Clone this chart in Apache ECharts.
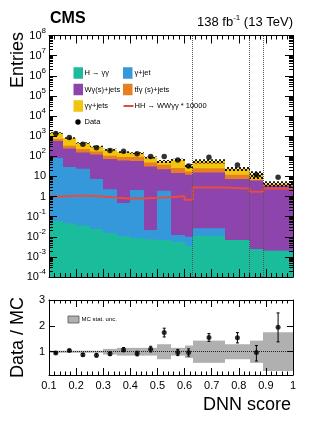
<!DOCTYPE html>
<html>
<head>
<meta charset="utf-8">
<script src="https://cdn.jsdelivr.net/npm/echarts@6.0.0/dist/echarts.min.js"></script>
<style>html,body{margin:0;padding:0;background:#fff;}#chart{width:327px;height:423px;}</style>
</head>
<body>
<div id="chart"></div>
<script>
// ---------------- data ----------------
const binEdges = [0.1, 0.15, 0.2, 0.25, 0.3, 0.35, 0.4, 0.45, 0.5, 0.55, 0.6, 0.63, 0.75, 0.84, 0.89, 1.0];
const categoryEdges = [0.63, 0.84, 0.89];

const hgg    = [0.061, 0.047, 0.035, 0.024, 0.016, 0.011, 0.0084, 0.0075, 0.0069, 0.0057, 0.0035, 0.011, 0.0069, 0.0024, 0.0020];
const gjet   = [81, 29, 24, 7.3, 2.3, 0.47, 2.1, 0.014, 1.9, 0.0066, 0.0066, 0.0155, 0, 0, 0];
const wgjets = [489, 215, 131, 116, 70, 61, 56, 31, 21, 14.6, 12, 15.6, 7.5, 6.2, 3.4];
const ttgjets= [148, 89, 73, 50, 33.5, 29, 33, 18, 14.7, 11.2, 5.5, 9.6, 4.5, 0.55, 0.2];
const ggjets = [708, 470, 225, 134, 104, 71, 53, 38, 17.3, 41, 16.1, 32.3, 11.8, 5.9, 0.8];
const hhSignal = [0.99, 1.08, 1.08, 0.99, 0.86, 0.79, 0.79, 0.86, 0.93, 1.05, 0.68, 2.8, 2.5, 1.7, 2.5];
const dataCounts = [1355, 843, 399, 264, 193, 175, 134, 96, 96, 65, 33, 89, 37, 12, 9];
const stackUnc = [0.09, 0.09, 0.09, 0.09, 0.11, 0.11, 0.11, 0.11, 0.17, 0.11, 0.23, 0.25, 0.23, 0.42, 0.30];

const ratio        = [0.95, 1.05, 0.88, 0.86, 0.92, 1.08, 0.93, 1.10, 1.74, 0.97, 0.97, 1.55, 1.54, 0.97, 1.95];
const ratioErrUp   = [0.03, 0.04, 0.05, 0.06, 0.07, 0.08, 0.09, 0.11, 0.17, 0.12, 0.14, 0.15, 0.20, 0.27, 0.55];
const ratioErrDown = [0.03, 0.04, 0.05, 0.06, 0.07, 0.08, 0.09, 0.11, 0.17, 0.12, 0.14, 0.15, 0.20, 0.33, 0.57];
const mcStatUnc    = [0.04, 0.04, 0.04, 0.04, 0.11, 0.15, 0.15, 0.15, 0.29, 0.15, 0.24, 0.43, 0.29, 0.43, 0.75];

const logDecades = [-4, -3, -2, -1, 0, 1, 2, 3, 4, 5, 6, 7, 8];
const ratioTicks = [1, 2, 3];

// ---------------- helpers ----------------
const FONT = "'Liberation Sans', Arial, Helvetica, sans-serif";
const nBins = binEdges.length - 1;
const centers = binEdges.slice(0, -1).map((e, i) => (e + binEdges[i + 1]) / 2);
const YMIN = 1e-4, YMAX = 1e8;
const logMajor = logDecades.map(e => Math.pow(10, e));
const logMinor = [];
logDecades.slice(0, -1).forEach(e => { for (let k = 2; k <= 9; k++) logMinor.push(k * Math.pow(10, e)); });

// hatch pattern
const pc = document.createElement('canvas');
pc.width = 4; pc.height = 4;
const g = pc.getContext('2d');
g.strokeStyle = 'rgba(0,0,0,0.9)'; g.lineWidth = 1;
g.beginPath(); g.moveTo(0, 0); g.lineTo(4, 4); g.moveTo(4, 0); g.lineTo(0, 4); g.stroke();
const hatch = { image: pc, repeat: 'repeat' };

function rectRenderer(fill, stroke) {
  return function (params, api) {
    const a = api.coord([api.value(0), api.value(3)]);
    const b = api.coord([api.value(1), api.value(2)]);
    const x0 = Math.round(a[0]), x1 = Math.round(b[0]);
    const st = { fill: fill };
    if (stroke) { st.stroke = stroke; st.lineWidth = 1; }
    return { type: 'rect', shape: { x: x0, y: a[1], width: x1 - x0, height: b[1] - a[1] }, style: st };
  };
}

const procs = [
  { name: 'H → γγ', vals: hgg, color: '#1abc9c' },
  { name: 'γ+jet', vals: gjet, color: '#3498db' },
  { name: 'Wγ(s)+jets', vals: wgjets, color: '#8e44ad' },
  { name: 'tt̄γ (s)+jets', vals: ttgjets, color: '#e67e22' },
  { name: 'γγ+jets', vals: ggjets, color: '#f1c40f' }
];
const cum = new Array(nBins).fill(0);
const cumTops = procs.map(p => p.vals.map((v, i) => (cum[i] += v)));
const total = cum.slice();

// draw cumulative layers top-down (largest first), each from axis minimum
const stackSeries = procs.map((p, k) => ({
  type: 'custom', name: p.name, xAxisIndex: 0, yAxisIndex: 0, clip: true, z: 2,
  encode: { x: [0, 1], y: [2, 3] },
  renderItem: rectRenderer(p.color),
  data: cumTops[k].map((t, i) => [binEdges[i], binEdges[i + 1], YMIN, Math.max(t, YMIN)])
})).reverse();

const hatchSeries = {
  type: 'custom', name: 'unc', xAxisIndex: 0, yAxisIndex: 0, clip: true, z: 3,
  encode: { x: [0, 1], y: [2, 3] },
  renderItem: rectRenderer(hatch),
  data: total.map((t, i) => [binEdges[i], binEdges[i + 1], t * (1 - stackUnc[i]), t * (1 + stackUnc[i])])
};

const hhLine = binEdges.map((e, i) => [e, hhSignal[Math.min(i, nBins - 1)]]);

const bandSeries = {
  type: 'custom', name: 'MC stat. unc.', xAxisIndex: 2, yAxisIndex: 4, clip: true, z: 2,
  encode: { x: [0, 1], y: [2, 3] },
  renderItem: rectRenderer('#b0b0b0'),
  data: mcStatUnc.map((u, i) => [binEdges[i], binEdges[i + 1], 1 - u, 1 + u])
};

const errSeries = {
  type: 'custom', xAxisIndex: 2, yAxisIndex: 4, clip: true, z: 4,
  encode: { x: 0, y: [1, 2, 3] },
  renderItem: function (params, api) {
    const hi = api.coord([api.value(0), api.value(2)]);
    const lo = api.coord([api.value(0), api.value(3)]);
    const s = { stroke: '#000', lineWidth: 1 };
    return { type: 'group', children: [
      { type: 'line', shape: { x1: hi[0], y1: hi[1], x2: lo[0], y2: lo[1] }, style: s },
      { type: 'line', shape: { x1: hi[0] - 1.5, y1: hi[1], x2: hi[0] + 1.5, y2: hi[1] }, style: s },
      { type: 'line', shape: { x1: lo[0] - 1.5, y1: lo[1], x2: lo[0] + 1.5, y2: lo[1] }, style: s }
    ] };
  },
  data: ratio.map((r, i) => [centers[i], r, r + ratioErrUp[i], r - ratioErrDown[i]])
};

// axes
const black = '#000';
function xAx(grid, pos, majLen, minLen, labels) {
  return {
    type: 'value', gridIndex: grid, position: pos, min: 0.1, max: 1, interval: 0.1, z: 10,
    splitLine: { show: false },
    axisLine: { show: true, onZero: false, lineStyle: { color: black, width: 1 } },
    axisTick: { show: true, inside: true, length: majLen, lineStyle: { color: black, width: 1 } },
    minorTick: { show: true, splitNumber: 5, length: minLen, lineStyle: { color: black, width: 1 } },
    axisLabel: labels ? {
      show: true, fontSize: 11, fontFamily: FONT, color: black, margin: 5,
      formatter: v => String(Math.round(v * 10) / 10)
    } : { show: false }
  };
}
function logFmt(v) {
  const e = Math.round(Math.log10(v));
  if (e === 0) return '1';
  if (e === 1) return '10';
  return '10{s|' + e + '}';
}
function yLog(pos, major, labels) {
  const vals = major ? logMajor : logMinor;
  return {
    type: 'log', logBase: 10, gridIndex: 0, position: pos, min: YMIN, max: YMAX, z: 10,
    splitLine: { show: false },
    axisLine: { show: major, onZero: false, lineStyle: { color: black, width: 1 } },
    axisTick: { show: true, inside: true, length: major ? 8 : 4, customValues: vals, lineStyle: { color: black, width: 1 } },
    minorTick: { show: false },
    axisLabel: labels ? {
      show: true, customValues: logMajor, formatter: logFmt, fontSize: 11, fontFamily: FONT, color: black,
      margin: 3, lineHeight: 18,
      rich: { s: { fontSize: 8, fontFamily: FONT, color: black, verticalAlign: 'top', lineHeight: 8 } }
    } : { show: false }
  };
}
function yRatio(pos, labels) {
  return {
    type: 'value', gridIndex: 1, position: pos, min: 0.1, max: 3, z: 10,
    splitLine: { show: false },
    axisLine: { show: true, onZero: false, lineStyle: { color: black, width: 1 } },
    axisTick: { show: true, inside: true, length: 6, customValues: ratioTicks, lineStyle: { color: black, width: 1 } },
    minorTick: { show: false },
    axisLabel: labels ? { show: true, customValues: ratioTicks, fontSize: 11, fontFamily: FONT, color: black, margin: 4 } : { show: false }
  };
}

// legend graphics
const legLeftX = 73.5, legRightX = 123, boxW = 9.5, boxH = 11.5;
const rowsY = [73, 89.5, 106, 122];
function legBox(x, y, color, label, textX) {
  return [
    { type: 'rect', shape: { x: x, y: y - boxH / 2, width: boxW, height: boxH }, style: { fill: color } },
    { type: 'text', x: textX, y: y, style: { text: label, font: '7.5px ' + FONT, fill: black, verticalAlign: 'middle' } }
  ];
}
const graphics = [].concat(
  legBox(legLeftX, rowsY[0], procs[0].color, procs[0].name, 84.5),
  legBox(legRightX, rowsY[0], procs[1].color, procs[1].name, 134.5),
  legBox(legLeftX, rowsY[1], procs[2].color, procs[2].name, 84.5),
  legBox(legRightX, rowsY[1], procs[3].color, procs[3].name, 134.5),
  legBox(legLeftX, rowsY[2], procs[4].color, procs[4].name, 84.5),
  [
    { type: 'rect', shape: { x: legRightX + 0.5, y: rowsY[2] - 1, width: 10, height: 2 }, style: { fill: '#e74c3c' } },
    { type: 'text', x: 134.5, y: rowsY[2], style: { text: 'HH → WWγγ * 10000', font: '7.5px ' + FONT, fill: black, verticalAlign: 'middle' } },
    { type: 'circle', shape: { cx: 78, cy: rowsY[3], r: 2.7 }, style: { fill: black } },
    { type: 'text', x: 84.5, y: rowsY[3], style: { text: 'Data', font: '7.5px ' + FONT, fill: black, verticalAlign: 'middle' } },
    // ratio legend
    { type: 'rect', shape: { x: 68, y: 316, width: 11, height: 7 }, style: { fill: '#b0b0b0', stroke: '#555', lineWidth: 0.8 } },
    { type: 'text', x: 81.5, y: 319.5, style: { text: 'MC stat. unc.', font: '6px ' + FONT, fill: black, verticalAlign: 'middle' } },
    // titles
    { type: 'text', x: 50, y: 19, style: { text: 'CMS', font: 'bold 16px ' + FONT, fill: black, verticalAlign: 'middle' } },
    { type: 'text', x: 293, y: 22.5, style: {
        text: '138 fb{s|-1} (13 TeV)', font: '13px ' + FONT, fill: black, align: 'right', verticalAlign: 'middle', lineHeight: 18,
        rich: { s: { fontSize: 8, fontFamily: FONT, fill: black, verticalAlign: 'top', lineHeight: 8 } } } },
    { type: 'text', x: 18, y: 32, rotation: Math.PI / 2, style: { text: 'Entries', font: '18px ' + FONT, fill: black, align: 'right', verticalAlign: 'middle' } },
    { type: 'text', x: 18, y: 337.5, rotation: Math.PI / 2, style: { text: 'Data / MC', font: '18px ' + FONT, fill: black, align: 'center', verticalAlign: 'middle' } },
    { type: 'text', x: 291, y: 405, style: { text: 'DNN score', font: '18px ' + FONT, fill: black, align: 'right', verticalAlign: 'middle' } }
  ]
);

const chart = echarts.init(document.getElementById('chart'), null, { renderer: 'canvas', width: 327, height: 423 });
chart.setOption({
  animation: false,
  backgroundColor: '#fff',
  textStyle: { fontFamily: FONT },
  grid: [
    { left: 49, top: 35.5, width: 244, height: 241.5, show: false },
    { left: 49, top: 300, width: 244, height: 75, show: false }
  ],
  xAxis: [
    xAx(0, 'bottom', 8, 4, false),
    xAx(0, 'top', 8, 4, false),
    xAx(1, 'bottom', 7, 3.5, true),
    xAx(1, 'top', 7, 3.5, false)
  ],
  yAxis: [
    yLog('left', true, true),
    yLog('right', true, false),
    yLog('left', false, false),
    yLog('right', false, false),
    yRatio('left', true),
    yRatio('right', false)
  ],
  series: stackSeries.concat([
    hatchSeries,
    {
      type: 'line', name: 'HH → WWγγ * 10000', xAxisIndex: 0, yAxisIndex: 0, step: 'end', symbol: 'none',
      clip: true, z: 4, data: hhLine, lineStyle: { color: '#e74c3c', width: 2 }
    },
    {
      type: 'scatter', name: 'Data', xAxisIndex: 0, yAxisIndex: 0, z: 5, symbolSize: 5.5,
      itemStyle: { color: black }, data: centers.map((c, i) => [c, dataCounts[i]]),
      markLine: {
        silent: true, symbol: 'none', label: { show: false }, z: 6,
        lineStyle: { type: 'dotted', color: '#555', width: 1 },
        data: categoryEdges.map(v => ({ xAxis: v }))
      }
    },
    bandSeries,
    {
      type: 'line', xAxisIndex: 2, yAxisIndex: 4, data: [], z: 3, symbol: 'none',
      markLine: {
        silent: true, symbol: 'none', label: { show: false },
        lineStyle: { type: 'dotted', color: '#222', width: 1 },
        data: [{ yAxis: 1 }]
      }
    },
    errSeries,
    {
      type: 'scatter', name: 'Ratio', xAxisIndex: 2, yAxisIndex: 4, z: 5, symbolSize: 5,
      itemStyle: { color: black }, data: centers.map((c, i) => [c, ratio[i]])
    }
  ]),
  graphic: graphics
});
</script>
</body>
</html>
